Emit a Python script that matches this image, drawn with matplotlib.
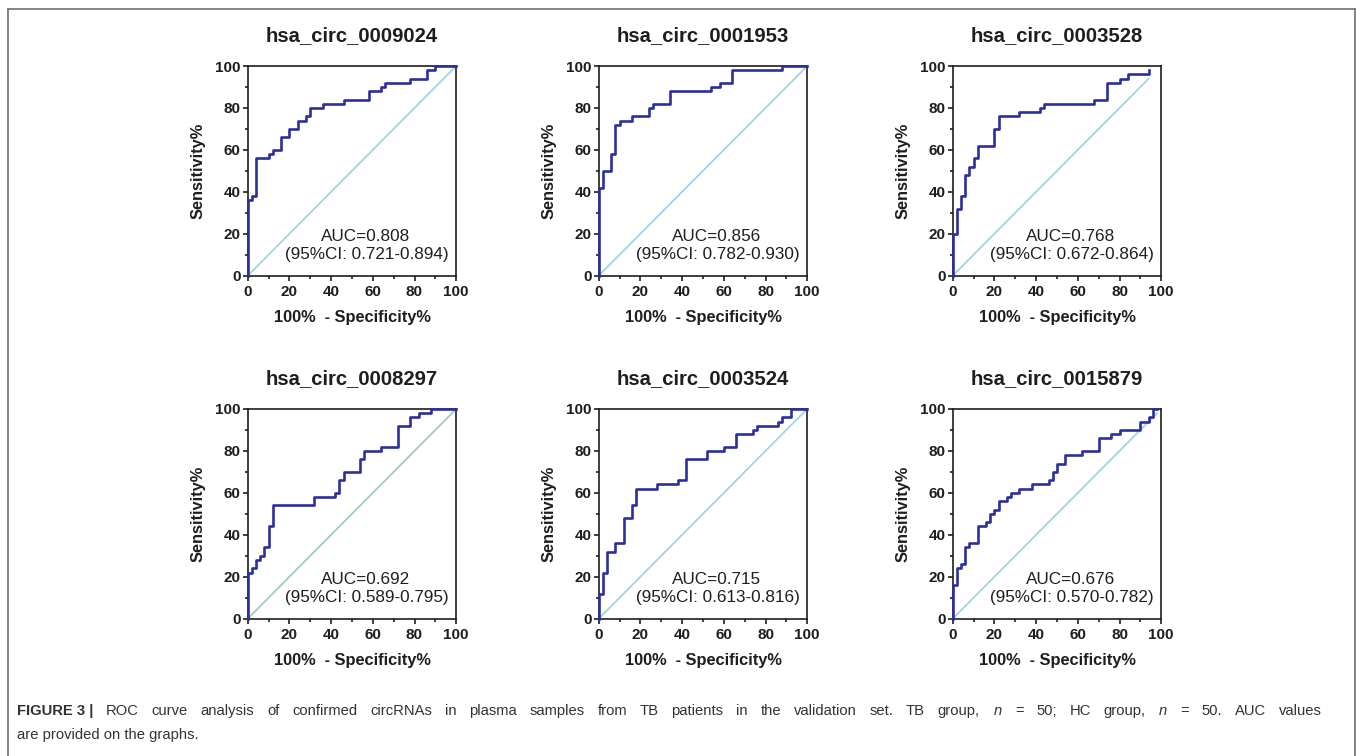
import matplotlib
matplotlib.use("Agg")
import matplotlib.pyplot as plt
from matplotlib.lines import Line2D
from matplotlib.ticker import MultipleLocator

plt.rcParams['font.family'] = ['Liberation Sans', 'DejaVu Sans']
plt.rcParams['mathtext.fontset'] = 'custom'
plt.rcParams['mathtext.it'] = 'Liberation Sans:italic'
plt.rcParams['mathtext.rm'] = 'Liberation Sans'

# ROC corner points (100% - specificity, sensitivity), in percent
names = ["hsa_circ_0009024", "hsa_circ_0001953", "hsa_circ_0003528",
         "hsa_circ_0008297", "hsa_circ_0003524", "hsa_circ_0015879"]

fpr_0009024 = [0, 0, 2, 4, 10, 12, 16, 20, 24, 28, 30, 36, 46, 58, 64, 66, 78, 86, 90, 100]
tpr_0009024 = [0, 36, 38, 56, 58, 60, 66, 70, 74, 76, 80, 82, 84, 88, 90, 92, 94, 98, 100, 100]

fpr_0001953 = [0, 0, 2, 6, 8, 10, 16, 24, 26, 34, 54, 58, 64, 88, 100]
tpr_0001953 = [0, 42, 50, 58, 72, 74, 76, 80, 82, 88, 90, 92, 98, 100, 100]

fpr_0003528 = [0, 0, 2, 4, 6, 8, 10, 12, 20, 22, 32, 42, 44, 68, 74, 80, 84, 94]
tpr_0003528 = [0, 20, 32, 38, 48, 52, 56, 62, 70, 76, 78, 80, 82, 84, 92, 94, 96, 98]

fpr_0008297 = [0, 0, 2, 4, 6, 8, 10, 12, 32, 42, 44, 46, 54, 56, 64, 72, 78, 82, 88, 100]
tpr_0008297 = [0, 22, 24, 28, 30, 34, 44, 54, 58, 60, 66, 70, 76, 80, 82, 92, 96, 98, 100, 100]

fpr_0003524 = [0, 0, 2, 4, 8, 12, 16, 18, 28, 38, 42, 52, 60, 66, 74, 76, 86, 88, 92, 100]
tpr_0003524 = [0, 12, 22, 32, 36, 48, 54, 62, 64, 66, 76, 80, 82, 88, 90, 92, 94, 96, 100, 100]

fpr_0015879 = [0, 0, 2, 4, 6, 8, 12, 16, 18, 20, 22, 26, 28, 32, 38, 46, 48, 50, 54, 62,
               70, 76, 80, 90, 94, 96, 98]
tpr_0015879 = [0, 16, 24, 26, 34, 36, 44, 46, 50, 52, 56, 58, 60, 62, 64, 66, 70, 74, 78, 80,
               86, 88, 90, 94, 96, 100, 100]

fprs = [fpr_0009024, fpr_0001953, fpr_0003528, fpr_0008297, fpr_0003524, fpr_0015879]
tprs = [tpr_0009024, tpr_0001953, tpr_0003528, tpr_0008297, tpr_0003524, tpr_0015879]

auc = ["0.808", "0.856", "0.768", "0.692", "0.715", "0.676"]
ci = ["0.721-0.894", "0.782-0.930", "0.672-0.864", "0.589-0.795", "0.613-0.816", "0.570-0.782"]

# reference line end (same as last x of each curve)
diag_end = [100, 100, 94, 100, 100, 98]
diag_color = ["#a3d3e3", "#a3d3e3", "#a3d3e3", "#9fcdb9", "#a3d3e3", "#a3d3e3"]

caption_bold = "FIGURE 3 |"
caption_line1 = ("ROC curve analysis of confirmed circRNAs in plasma samples from TB patients in the "
                 "validation set. TB group, $n$ = 50; HC group, $n$ = 50. AUC values")
caption_line2 = "are provided on the graphs."

W, H = 1357, 756
fig = plt.figure(figsize=(W / 100, H / 100), dpi=100)

lefts = [247.7, 598.7, 952.7]
tops = [66.0, 409.0]
aw, ah = 208.5, 209.7

curve_col = "#2c2f9c"
ink = "#1e1e1e"

for i in range(6):
    r, c = divmod(i, 3)
    x0 = lefts[c] / W
    y0 = (H - tops[r] - ah) / H
    ax = fig.add_axes([x0, y0, aw / W, ah / H])

    d = diag_end[i]
    ax.plot([0, d], [0, d], color=diag_color[i], lw=1.3, zorder=2)
    ax.plot(fprs[i], tprs[i], drawstyle='steps-post', color=curve_col,
            lw=1.9, zorder=3, clip_on=False)

    ax.set_xlim(0, 100)
    ax.set_ylim(0, 100)
    ax.xaxis.set_major_locator(MultipleLocator(20))
    ax.yaxis.set_major_locator(MultipleLocator(20))
    ax.xaxis.set_minor_locator(MultipleLocator(10))
    ax.yaxis.set_minor_locator(MultipleLocator(10))
    for s in ax.spines.values():
        s.set_linewidth(1.2)
        s.set_color(ink)
    ax.tick_params(which='major', length=3.8, width=1.2, color=ink,
                   labelsize=11, labelcolor=ink)
    ax.tick_params(axis='x', which='major', pad=3.0)
    ax.tick_params(axis='y', which='major', pad=1.2)
    ax.tick_params(which='minor', length=2.4, width=1.2, color=ink)
    for lab in ax.get_xticklabels() + ax.get_yticklabels():
        lab.set_fontweight('bold')

    ax.text(0.5, 1.145, names[i], transform=ax.transAxes, ha='center', va='center',
            fontsize=14.6, fontweight='bold', color=ink)
    ax.text(0.5, -0.197, "100%  - Specificity%", transform=ax.transAxes,
            ha='center', va='center', fontsize=11.8, fontweight='bold', color=ink)
    ax.text(-0.237, 0.5, "Sensitivity%", transform=ax.transAxes, rotation=90,
            ha='center', va='center', fontsize=11.8, fontweight='bold', color=ink)
    ax.text(0.567, 0.186, "AUC=" + auc[i], transform=ax.transAxes,
            ha='center', va='center', fontsize=12.3, color=ink)
    ax.text(0.571, 0.099, "(95%CI: " + ci[i] + ")", transform=ax.transAxes,
            ha='center', va='center', fontsize=12.3, color=ink)

# page frame around the figure
frame = dict(color="#7a7a7a", lw=1.3, transform=fig.transFigure)
fig.add_artist(Line2D([8 / W, 1355 / W], [1 - 9 / H, 1 - 9 / H], **frame))
fig.add_artist(Line2D([8 / W, 8 / W], [0, 1 - 9 / H], **frame))
fig.add_artist(Line2D([1355 / W, 1355 / W], [0, 1 - 9 / H], **frame))

# caption, first line justified between x_start and x_end
cap_col = "#333333"
cap_size = 10.6
x_start, x_end = 17, 1322
y1, y2 = 1 - 711 / H, 1 - 735 / H

tokens = [fig.text(0, y1, caption_bold, fontsize=cap_size, fontweight='bold',
                   color=cap_col, va='center', ha='left')]
for w in caption_line1.split():
    tokens.append(fig.text(0, y1, w, fontsize=cap_size, color=cap_col,
                           va='center', ha='left'))
fig.canvas.draw()
rend = fig.canvas.get_renderer()
widths = [t.get_window_extent(rend).width for t in tokens]
gap = (x_end - x_start - sum(widths)) / (len(tokens) - 1)
x = x_start
for t, w in zip(tokens, widths):
    t.set_x(x / W)
    x += w + gap

fig.text(x_start / W, y2, caption_line2, fontsize=cap_size,
         color=cap_col, va='center', ha='left')

fig.savefig("out.png", dpi=100, facecolor='white')
